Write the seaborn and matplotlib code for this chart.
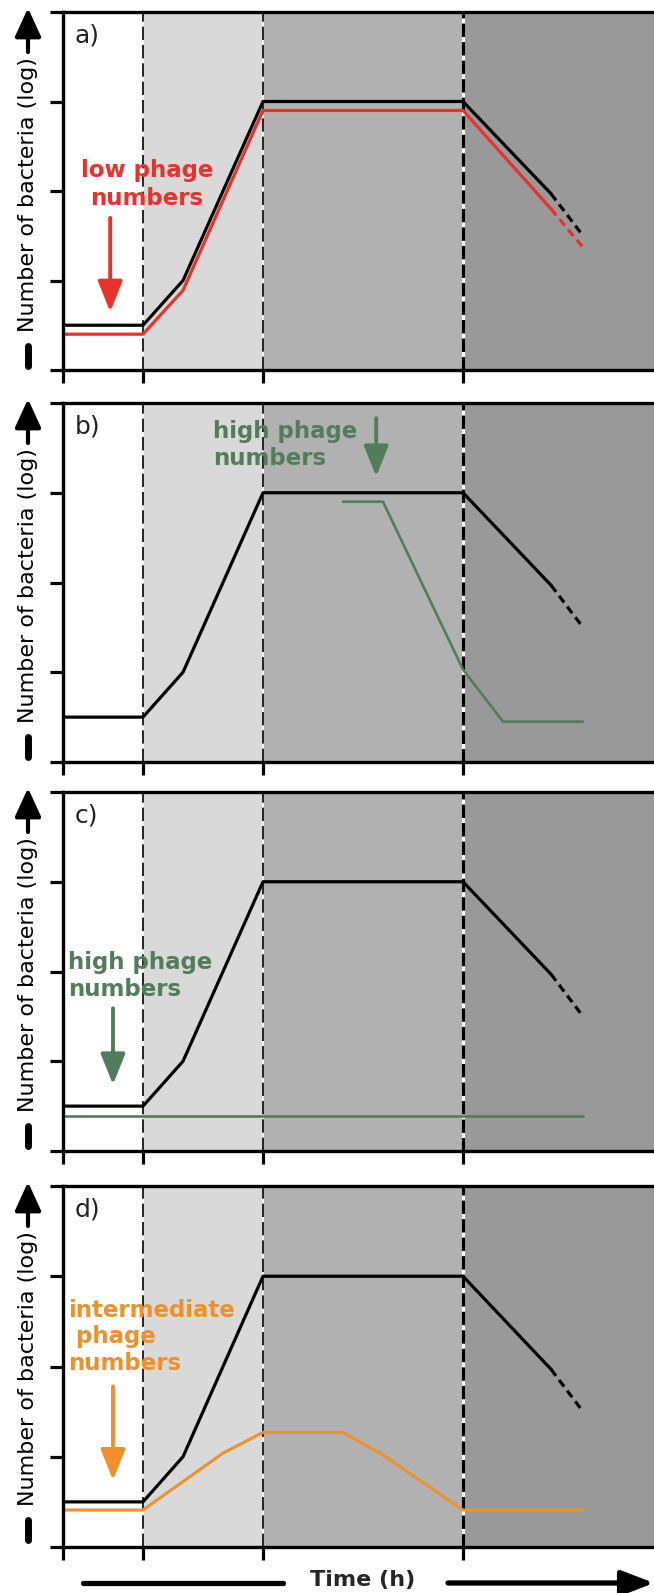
import matplotlib
matplotlib.use("Agg")
import matplotlib.pyplot as plt
import seaborn as sns
from matplotlib.lines import Line2D

# ---------------- data ----------------
panel_letters = ["a)", "b)", "c)", "d)"]
phase_edges = [0, 2, 5, 10, 15]
x_ticks = [0, 2, 5, 10]
y_ticks = [0, 1, 2, 3, 4]

black_t = [0, 2, 3, 5, 10, 12.2]
black_y = [0.5, 0.5, 1.0, 3.0, 3.0, 1.97]
black_dash_t = [12.2, 13.0]
black_dash_y = [1.97, 1.50]

red_t = [0, 2, 3, 5, 10, 12.2]
red_y = [0.40, 0.40, 0.89, 2.90, 2.90, 1.80]
red_dash_t = [12.2, 13.0]
red_dash_y = [1.80, 1.37]

green_b_t = [7, 8, 10, 11, 13]
green_b_y = [2.90, 2.90, 1.03, 0.45, 0.45]

green_c_t = [0, 13]
green_c_y = [0.39, 0.39]

orange_t = [0, 2, 4, 5, 7, 8, 10, 13]
orange_y = [0.41, 0.41, 1.04, 1.27, 1.27, 1.02, 0.41, 0.41]

ylabel_text = "Number of bacteria (log)"
xlabel_text = "Time (h)"

# ---------------- style ----------------
sns.set_style("ticks")
plt.rcParams["font.family"] = ["DejaVu Sans"]

RED = "#e8322b"
GREEN = "#527d5a"
ORANGE = "#f0902a"
SHADES = ["#ffffff", "#d9d9d9", "#b1b1b1", "#989998"]

W, H = 654, 1593
fig = plt.figure(figsize=(W / 100, H / 100), dpi=100)
tops = [12, 403, 792, 1186]
bots = [370, 762, 1151, 1547]
left = 63
xmax = (W - left) / 40.0

axes = []
for i in range(4):
    ax = fig.add_axes([left / W, 1 - bots[i] / H, 1 - left / W, (bots[i] - tops[i]) / H])
    axes.append(ax)
    ax.set_xlim(0, xmax)
    ax.set_ylim(0, 4)
    # phase shading
    for j in range(1, 4):
        ax.axvspan(phase_edges[j], phase_edges[j + 1], color=SHADES[j], zorder=0, lw=0)
    # phase boundaries
    for xb, lw, pat in [(2, 1.2, (0, (8, 3))), (5, 1.2, (0, (8, 3))), (10, 2.3, (0, (4.2, 1.6)))]:
        ax.axvline(xb, color="white", lw=lw, zorder=1)
        ax.axvline(xb, color="black", lw=lw, linestyle=pat, zorder=1.5)
    # black reference curve
    sns.lineplot(x=black_t, y=black_y, ax=ax, color="black", lw=2.3, sort=False,
                 estimator=None, zorder=3)
    sns.lineplot(x=black_dash_t, y=black_dash_y, ax=ax, color="black", lw=2.3, sort=False,
                 estimator=None, linestyle=(0, (2.6, 1.6)), zorder=3)
    # axis styling
    ax.set_xticks(x_ticks)
    ax.set_yticks(y_ticks)
    ax.tick_params(direction="out", length=9.5, width=2.3, labelleft=False,
                   labelbottom=False, color="black")
    for s in ["left", "top", "bottom"]:
        ax.spines[s].set_linewidth(2.4)
        ax.spines[s].set_color("black")
        ax.spines[s].set_zorder(5)
    ax.spines["right"].set_visible(False)
    ax.set_xlabel("")
    ax.set_ylabel("")
    # panel letter
    ax.text(0.02, 0.935, panel_letters[i], transform=ax.transAxes, fontsize=18,
            ha="left", va="center", color="#222222")
    # y label with arrow and dash
    hpx = bots[i] - tops[i]
    xf = (28 - left) / (W - left)
    ax.text(xf, 1 - (195 - 12) / hpx, ylabel_text, transform=ax.transAxes, rotation=90,
            ha="center", va="center", fontsize=16, color="black")
    ax.annotate("", xy=(xf, 1 + 4 / hpx), xytext=(xf, 1 - 40 / hpx),
                xycoords="axes fraction",
                arrowprops=dict(arrowstyle="-|>,head_length=0.7,head_width=0.32",
                                lw=3.0, color="black", mutation_scale=25,
                                shrinkA=0, shrinkB=0),
                annotation_clip=False)
    ax.add_line(Line2D([xf, xf], [1 - (346 - 12) / hpx, 1 - (366 - 12) / hpx],
                       transform=ax.transAxes, lw=5, color="black",
                       solid_capstyle="round", clip_on=False))

# ---------------- panel specifics ----------------
def arrow(ax, x, y0, y1, color):
    ax.annotate("", xy=(x, y1), xytext=(x, y0),
                arrowprops=dict(arrowstyle="-|>,head_length=0.75,head_width=0.3",
                                lw=2.8, color=color, mutation_scale=25,
                                shrinkA=0, shrinkB=0), zorder=4)

ax = axes[0]
sns.lineplot(x=red_t, y=red_y, ax=ax, color=RED, lw=2.3, sort=False, estimator=None, zorder=3.5)
sns.lineplot(x=red_dash_t, y=red_dash_y, ax=ax, color=RED, lw=2.3, sort=False,
             estimator=None, linestyle=(0, (2.6, 1.6)), zorder=3.5)
ax.text(2.1, 2.07, "low phage\nnumbers", color=RED, fontsize=16.5, fontweight="bold",
        ha="center", va="center", linespacing=1.25, zorder=4)
arrow(ax, 1.18, 1.70, 0.65, RED)

ax = axes[1]
sns.lineplot(x=green_b_t, y=green_b_y, ax=ax, color=GREEN, lw=1.9, sort=False, estimator=None, zorder=3.5)
ax.text(3.75, 3.53, "high phage\nnumbers", color=GREEN, fontsize=16.5, fontweight="bold",
        ha="left", va="center", linespacing=1.2, zorder=4)
arrow(ax, 7.83, 3.83, 3.18, GREEN)

ax = axes[2]
sns.lineplot(x=green_c_t, y=green_c_y, ax=ax, color=GREEN, lw=1.9, sort=False, estimator=None, zorder=3.5)
ax.text(0.12, 1.95, "high phage\nnumbers", color=GREEN, fontsize=16.5, fontweight="bold",
        ha="left", va="center", linespacing=1.2, zorder=4)
arrow(ax, 1.25, 1.59, 0.74, GREEN)

ax = axes[3]
sns.lineplot(x=orange_t, y=orange_y, ax=ax, color=ORANGE, lw=2.2, sort=False, estimator=None, zorder=3.5)
ax.text(0.12, 2.33, "intermediate\n phage\nnumbers", color=ORANGE, fontsize=16.5,
        fontweight="bold", ha="left", va="center", linespacing=1.2, zorder=4)
arrow(ax, 1.25, 1.78, 0.74, ORANGE)

# ---------------- time axis label ----------------
yb = 1 - 1583 / H
fig.text(363 / W, 1 - 1580 / H, xlabel_text, fontsize=16, fontweight="bold",
         ha="center", va="center")
fig.add_artist(Line2D([83 / W, 283 / W], [yb, yb], transform=fig.transFigure, lw=3.8,
                      color="black", solid_capstyle="round"))
axes[3].annotate("", xy=(1.0, yb), xytext=(448 / W, yb), xycoords="figure fraction",
                 arrowprops=dict(arrowstyle="-|>,head_length=0.78,head_width=0.3",
                                 lw=3.8, color="black", mutation_scale=25,
                                 shrinkA=0, shrinkB=0, capstyle="round"),
                 annotation_clip=False)

fig.savefig("out.png", dpi=100)
